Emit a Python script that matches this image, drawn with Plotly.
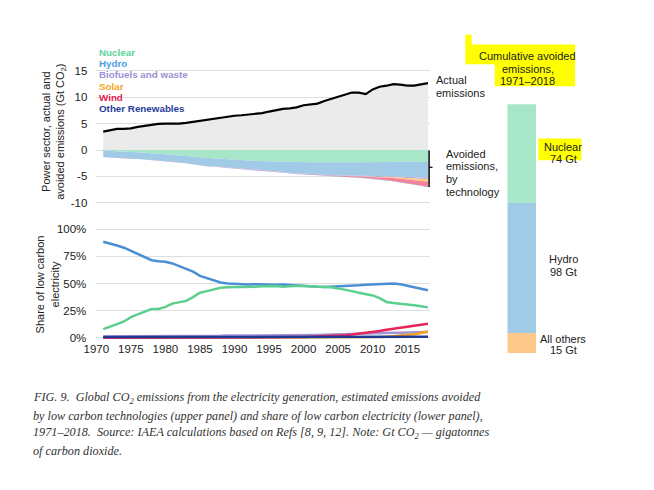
import plotly.graph_objects as go

W, H = 654, 490

years = list(range(1971, 2019))

actual_emissions = [3.5, 3.7, 4.0, 4.0, 4.1, 4.4, 4.6, 4.8, 4.95, 5.0,
                    5.0, 5.0, 5.15, 5.35, 5.5, 5.7, 5.95, 6.2, 6.4, 6.5,
                    6.6, 6.7, 6.8, 7.0, 7.3, 7.6, 7.8, 7.9, 8.1, 8.5,
                    8.6, 8.8, 9.3, 9.7, 10.0, 10.4, 10.9, 10.9, 10.6, 11.5,
                    12.0, 12.2, 12.5, 12.4, 12.2, 12.2, 12.4, 12.7]

avoided_nuclear = [0.1, 0.13, 0.18, 0.25, 0.35, 0.42, 0.52, 0.62, 0.65, 0.72,
                   0.85, 0.92, 1.02, 1.2, 1.4, 1.5, 1.6, 1.7, 1.8, 1.85,
                   1.95, 2.0, 2.05, 2.1, 2.15, 2.2, 2.2, 2.25, 2.3, 2.3,
                   2.32, 2.33, 2.3, 2.35, 2.35, 2.35, 2.3, 2.3, 2.28, 2.3,
                   2.25, 2.15, 2.15, 2.18, 2.2, 2.22, 2.22, 2.25]
avoided_hydro = [1.16, 1.18, 1.2, 1.25, 1.25, 1.25, 1.25, 1.28, 1.3, 1.33,
                 1.35, 1.38, 1.4, 1.43, 1.45, 1.48, 1.5, 1.52, 1.55, 1.58,
                 1.62, 1.63, 1.65, 1.7, 1.8, 1.9, 2.0, 2.1, 2.15, 2.2,
                 2.2, 2.25, 2.28, 2.35, 2.4, 2.45, 2.48, 2.5, 2.55, 2.6,
                 2.65, 2.72, 2.8, 2.85, 2.88, 2.92, 2.95, 3.0]
avoided_biofuels = [0.02, 0.02, 0.02, 0.02, 0.02, 0.02, 0.02, 0.03, 0.03, 0.03,
                    0.03, 0.03, 0.03, 0.03, 0.04, 0.04, 0.04, 0.04, 0.05, 0.06,
                    0.06, 0.06, 0.06, 0.06, 0.06, 0.07, 0.07, 0.07, 0.08, 0.08,
                    0.08, 0.09, 0.1, 0.1, 0.11, 0.12, 0.13, 0.14, 0.15, 0.17,
                    0.19, 0.2, 0.22, 0.24, 0.26, 0.27, 0.29, 0.3]
avoided_solar = [0.0] * 37 + [0.01, 0.02, 0.03, 0.06, 0.09, 0.12, 0.16, 0.2, 0.26, 0.35, 0.45]
avoided_wind = [0.0] * 19 + [0.003, 0.004, 0.005, 0.006, 0.008, 0.01, 0.012, 0.015, 0.02, 0.025,
                             0.03, 0.04, 0.05, 0.06, 0.08, 0.1, 0.13, 0.17, 0.22, 0.28,
                             0.35, 0.43, 0.5, 0.58, 0.65, 0.72, 0.8, 0.9, 0.98]
avoided_other = [0.02, 0.02, 0.02, 0.02, 0.02, 0.02, 0.02, 0.02, 0.02, 0.02,
                 0.03, 0.03, 0.03, 0.03, 0.03, 0.03, 0.03, 0.03, 0.03, 0.03,
                 0.04, 0.04, 0.04, 0.04, 0.04, 0.04, 0.04, 0.04, 0.04, 0.04,
                 0.04, 0.04, 0.05, 0.05, 0.05, 0.05, 0.05, 0.05, 0.05, 0.05,
                 0.05, 0.05, 0.05, 0.06, 0.06, 0.06, 0.06, 0.06]

share_hydro = [88.5, 87, 85, 83, 80, 77, 74, 71.5, 70.5, 70,
               68.5, 66, 64, 61, 57, 55, 53, 51, 50, 49.5,
               49.3, 49, 49.3, 49, 49.3, 48.8, 49, 48.5, 48, 47.8,
               47.3, 47, 46.8, 47, 47.2, 47.5, 47.8, 48.3, 48.8, 49,
               49.3, 50, 50, 49.3, 48, 47, 45.5, 43.8]
share_nuclear = [8, 10, 12.5, 15, 19, 21.5, 24, 26.5, 26.5, 28.5,
                 31.5, 32.5, 34, 37.5, 41.5, 43, 44.5, 46, 46.5, 46.5,
                 47, 47, 47, 47.5, 47.5, 47.8, 47, 47.5, 48, 47.8,
                 47.5, 47, 46.5, 46.5, 45.5, 44.5, 43, 41.5, 40.5, 39,
                 36.5, 33, 32, 31.5, 31, 30, 29, 28]
share_biofuels = [1.2, 1.2, 1.2, 1.2, 1.2, 1.2, 1.3, 1.3, 1.4, 1.4,
                  1.5, 1.5, 1.6, 1.6, 1.7, 1.7, 1.8, 1.8, 2.0, 2.2,
                  2.0, 2.0, 2.0, 2.0, 2.1, 2.1, 2.2, 2.3, 2.4, 2.5,
                  2.5, 2.6, 2.8, 2.9, 3.0, 3.1, 3.3, 3.5, 3.7, 3.9,
                  4.1, 4.3, 4.5, 4.7, 4.9, 5.0, 5.2, 5.3]
share_solar = [0.0] * 37 + [0.1, 0.2, 0.3, 0.6, 1.0, 1.4, 1.9, 2.5, 3.2, 4.4, 5.8]
share_wind = [0.0] * 19 + [0.1, 0.1, 0.1, 0.15, 0.2, 0.25, 0.3, 0.35, 0.45, 0.6,
                           0.75, 0.95, 1.1, 1.3, 1.6, 1.9, 2.4, 3.0, 3.7, 4.5,
                           5.3, 6.3, 7.3, 8.3, 9.3, 10.2, 11.1, 12.1, 13.0]
share_other = [0.6, 0.6, 0.6, 0.6, 0.6, 0.7, 0.7, 0.7, 0.7, 0.7,
               0.8, 0.8, 0.8, 0.8, 0.8, 0.8, 0.8, 0.8, 0.9, 0.9,
               0.9, 0.9, 0.9, 0.9, 0.9, 0.9, 0.9, 0.9, 0.9, 0.9,
               0.9, 0.9, 0.9, 0.9, 0.9, 0.9, 0.9, 0.9, 0.9, 0.9,
               0.9, 0.8, 0.8, 0.8, 0.8, 0.8, 0.8, 0.8]

bar_categories = ["All others", "Hydro", "Nuclear"]
bar_values = [15, 98, 74]

tech_names = ["Nuclear", "Hydro", "Biofuels and waste", "Solar", "Wind", "Other Renewables"]
x_ticks = [1970, 1975, 1980, 1985, 1990, 1995, 2000, 2005, 2010, 2015]

FONT = "Liberation Sans, Arial, sans-serif"
SERIF = "Liberation Serif, Times New Roman, serif"

line_col = {"Nuclear": "#5ccf8f", "Hydro": "#4a8fd4", "Biofuels and waste": "#9e94d6",
            "Solar": "#f5a41f", "Wind": "#e8245c", "Other Renewables": "#1f3a93"}
fill_col = {"Nuclear": "#a8e6c9", "Hydro": "#a1cae6", "Biofuels and waste": "#b7aee6",
            "Solar": "#fdca7e", "Wind": "#f3829b", "Other Renewables": "#6f7fc0"}
legend_col = {"Nuclear": "#5fd39a", "Hydro": "#4d9de0", "Biofuels and waste": "#9e8fd6",
              "Solar": "#f5a623", "Wind": "#e5194f", "Other Renewables": "#1f3d99"}
bar_col = {"Nuclear": "#a8e6c9", "Hydro": "#a1cae6", "All others": "#fdc98a"}


def px(x):
    return x / W


def py(y):
    return 1 - y / H


fig = go.Figure()

# Upper panel: actual emissions
fig.add_trace(go.Scatter(x=years, y=actual_emissions, mode="lines", fill="tozeroy",
                         fillcolor="#ebebeb", line=dict(color="black", width=2.2),
                         xaxis="x", yaxis="y", showlegend=False, hoverinfo="skip"))

avoided = {"Nuclear": avoided_nuclear, "Hydro": avoided_hydro,
           "Biofuels and waste": avoided_biofuels, "Solar": avoided_solar,
           "Wind": avoided_wind, "Other Renewables": avoided_other}
for name in tech_names:
    fig.add_trace(go.Scatter(x=years, y=[-v for v in avoided[name]], mode="lines",
                             stackgroup="avoided", fillcolor=fill_col[name],
                             line=dict(width=0, color=fill_col[name]),
                             xaxis="x", yaxis="y", showlegend=False, name=name))

# Lower panel: shares
shares = {"Nuclear": share_nuclear, "Hydro": share_hydro,
          "Biofuels and waste": share_biofuels, "Solar": share_solar,
          "Wind": share_wind, "Other Renewables": share_other}
for name in ["Hydro", "Nuclear", "Biofuels and waste", "Solar", "Wind", "Other Renewables"]:
    fig.add_trace(go.Scatter(x=years, y=shares[name], mode="lines",
                             line=dict(color=line_col[name], width=2.5),
                             xaxis="x2", yaxis="y2", showlegend=False, name=name))

# Cumulative bar
for cat, val in zip(bar_categories, bar_values):
    fig.add_trace(go.Bar(x=[0], y=[val], width=1, marker=dict(color=bar_col[cat], line=dict(width=0)),
                         xaxis="x3", yaxis="y3", showlegend=False, name=cat))

x_dom = [px(85), px(425.5)]
x_range = [1970, 2018.3]
grid = "#dedede"

fig.update_layout(
    width=W, height=H, autosize=False,
    margin=dict(l=0, r=0, t=0, b=0),
    paper_bgcolor="white", plot_bgcolor="rgba(0,0,0,0)",
    barmode="stack",
    font=dict(family=FONT, size=11, color="#222"),
    xaxis=dict(domain=x_dom, range=x_range, showgrid=False, showticklabels=False,
               zeroline=False, showline=False, ticks=""),
    yaxis=dict(domain=[py(215), py(40)], range=[-12.27, 20.56],
               tickvals=[-10, -5, 0, 5, 10, 15], ticktext=["-10", "-5", "0", "5", "10", "15"],
               showgrid=True, gridcolor=grid, gridwidth=1.3, zeroline=False,
               showline=False, ticks="", ticklabelstandoff=8,
               tickfont=dict(size=11.5, family=FONT, color="#222")),
    xaxis2=dict(domain=x_dom, range=x_range, tickvals=x_ticks, showgrid=False,
                zeroline=False, showline=False, ticks="", anchor="y2",
                tickfont=dict(size=11.5, family=FONT, color="#222")),
    yaxis2=dict(domain=[py(342), py(226)], range=[-2.55, 103.3],
                tickvals=[0, 25, 50, 75, 100], ticktext=["0%", "25%", "50%", "75%", "100%"],
                showgrid=True, gridcolor=grid, gridwidth=1.3, zeroline=False,
                showline=False, ticks="", ticklabelstandoff=9, anchor="x2",
                tickfont=dict(size=11.5, family=FONT, color="#222")),
    xaxis3=dict(domain=[px(504.5), px(534)], range=[-0.5, 0.5], visible=False, anchor="y3"),
    yaxis3=dict(domain=[py(355), py(103.3)], range=[0, 187], visible=False, anchor="x3"),
)

shapes = []
# yellow highlights
yellow = "#ffff00"
shapes.append(dict(type="path", xref="paper", yref="paper", layer="below",
                   path="M {a},{b} L {c},{b} L {c},{d} L {e},{d} L {e},{f} L {g},{f} L {g},{h} L {a},{h} Z".format(
                       a=px(461.5), b=py(33), c=px(468), d=py(43), e=px(573.5), f=py(85),
                       g=px(491.5), h=py(63)),
                   fillcolor=yellow, line=dict(width=0)))
shapes.append(dict(type="rect", xref="paper", yref="paper", layer="below",
                   x0=px(536), x1=px(580), y0=py(160), y1=py(138),
                   fillcolor=yellow, line=dict(width=0)))
# bracket for avoided emissions
shapes.append(dict(type="line", xref="paper", yref="paper", x0=px(424.5), x1=px(424.5),
                   y0=py(150), y1=py(187), line=dict(color="black", width=1.5)))
shapes.append(dict(type="line", xref="paper", yref="paper", x0=px(424.5), x1=px(428),
                   y0=py(167), y1=py(167), line=dict(color="black", width=1.2)))
fig.update_layout(shapes=shapes)

ann = []


def text(x, y, s, size=11, color="#222", xanchor="left", family=FONT, **kw):
    ann.append(dict(x=px(x), y=py(y), xref="paper", yref="paper", text=s, showarrow=False,
                    xanchor=xanchor, yanchor="middle", font=dict(size=size, color=color, family=family),
                    align=xanchor if xanchor != "center" else "center", **kw))


# legend-like labels
for i, name in enumerate(tech_names):
    text(86, 50.7 + i * 11.4, "<b>" + name + "</b>", size=9.8, color=legend_col[name])

# y-axis titles
ann.append(dict(x=px(42), y=py(131), xref="paper", yref="paper",
                text="Power sector, actual and<br>avoided emissions (Gt CO<sub>2</sub>)",
                showarrow=False, textangle=-90, xanchor="center", yanchor="middle",
                font=dict(size=11, color="#222", family=FONT)))
ann.append(dict(x=px(35), y=py(285), xref="paper", yref="paper",
                text="Share of low carbon<br>electricity",
                showarrow=False, textangle=-90, xanchor="center", yanchor="middle",
                font=dict(size=11, color="#222", family=FONT)))

# side labels
text(430, 78.3, "Actual")
text(430, 91.7, "emissions")
for i, s in enumerate(["Avoided", "emissions,", "by", "technology"]):
    text(440, 153.3 + i * 12.8, s)

# cumulative labels
for i, s in enumerate(["Cumulative avoided", "emissions,", "1971\u20132018"]):
    text(525, 54.3 + i * 12.9, s, xanchor="center")
text(561.5, 146.7, "Nuclear", xanchor="center")
text(561.5, 158.3, "74 Gt", xanchor="center")
text(561.5, 260, "Hydro", xanchor="center")
text(561.5, 272.3, "98 Gt", xanchor="center")
text(561.5, 340, "All others", xanchor="center")
text(561.5, 351.7, "15 Gt", xanchor="center")

# caption
caption = [
    "FIG. 9.  Global CO<sub>2</sub> emissions from the electricity generation, estimated emissions avoided",
    "by low carbon technologies (upper panel) and share of low carbon electricity (lower panel),",
    "1971\u20132018.  Source: IAEA calculations based on Refs [8, 9, 12]. Note: Gt CO<sub>2</sub> \u2014 gigatonnes",
    "of carbon dioxide.",
]
for i, s in enumerate(caption):
    text(18, 400 + i * 17.8, "<i>" + s + "</i>", size=12.2, color="#333", family=SERIF)

fig.update_layout(annotations=ann)

fig.write_html("out.html")
